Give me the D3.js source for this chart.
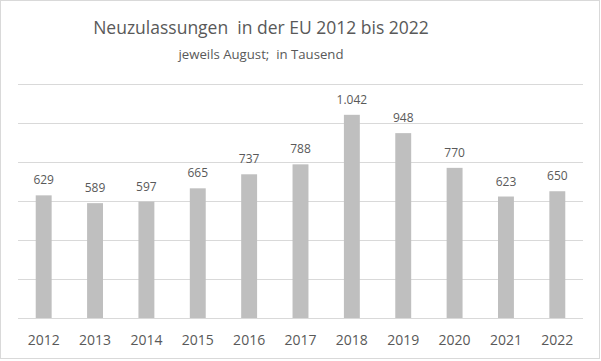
<!DOCTYPE html>
<html>
<head>
<meta charset="utf-8">
<script src="https://cdn.jsdelivr.net/npm/d3@7"></script>
<style>
  body { margin: 0; background: #fff; }
  text { font-family: "Open Sans", "Noto Sans", sans-serif; fill: #595959; }
</style>
</head>
<body>
<svg id="chart" width="601" height="361"></svg>
<script>
const years = ["2012", "2013", "2014", "2015", "2016", "2017", "2018", "2019", "2020", "2021", "2022"];
const values = [629, 589, 597, 665, 737, 788, 1042, 948, 770, 623, 650];
const gridTicks = [0, 200, 400, 600, 800, 1000, 1200];

const svg = d3.select("#chart");
const W = 601, H = 361;
const plot = { left: 18, right: 583, top: 84, bottom: 318 };

// outer frame
svg.append("rect")
  .attr("x", 0.5).attr("y", 0.5)
  .attr("width", W - 2).attr("height", H - 3)
  .attr("fill", "#fff")
  .attr("stroke", "#d9d9d9");

const x = d3.scaleBand().domain(years).range([plot.left, plot.right]).paddingInner(0.69).paddingOuter(0.345);
const y = d3.scaleLinear().domain([0, 1200]).range([plot.bottom, plot.top]);

// gridlines
svg.append("g")
  .selectAll("line")
  .data(gridTicks)
  .join("line")
  .attr("x1", plot.left).attr("x2", plot.right)
  .attr("y1", d => Math.round(y(d)) + 0.5)
  .attr("y2", d => Math.round(y(d)) + 0.5)
  .attr("stroke", "#d9d9d9")
  .attr("stroke-width", 1);

// bars
svg.append("g")
  .selectAll("rect")
  .data(values)
  .join("rect")
  .attr("x", (d, i) => x(years[i]))
  .attr("width", x.bandwidth())
  .attr("y", d => y(d))
  .attr("height", d => y(0) - y(d))
  .attr("fill", "#bfbfbf");

// value labels, german number format
const fmt = d3.formatLocale({ decimal: ",", thousands: ".", grouping: [3], currency: ["", " €"] }).format(",d");
svg.append("g")
  .selectAll("text")
  .data(values)
  .join("text")
  .attr("x", (d, i) => x(years[i]) + x.bandwidth() / 2)
  .attr("y", d => y(d) - 11)
  .attr("text-anchor", "middle")
  .attr("font-size", "12px")
  .text(d => fmt(d));

// category axis
const xAxis = svg.append("g")
  .attr("transform", `translate(0,${plot.bottom})`)
  .call(d3.axisBottom(x).tickSize(0).tickPadding(0));
xAxis.select(".domain").remove();
xAxis.selectAll("text")
  .attr("y", 27)
  .attr("dy", 0)
  .attr("font-size", "14px")
  .style("font-family", "'Open Sans', 'Noto Sans', sans-serif")
  .attr("fill", "#595959");

// titles
svg.append("text")
  .attr("x", 261).attr("y", 34)
  .attr("text-anchor", "middle")
  .attr("font-size", "17.5px")
  .text("Neuzulassungen  in der EU 2012 bis 2022")
  .style("white-space", "pre");

svg.append("text")
  .attr("x", 261).attr("y", 59)
  .attr("text-anchor", "middle")
  .attr("font-size", "13.2px")
  .text("jeweils August;  in Tausend")
  .style("white-space", "pre");
</script>
</body>
</html>
